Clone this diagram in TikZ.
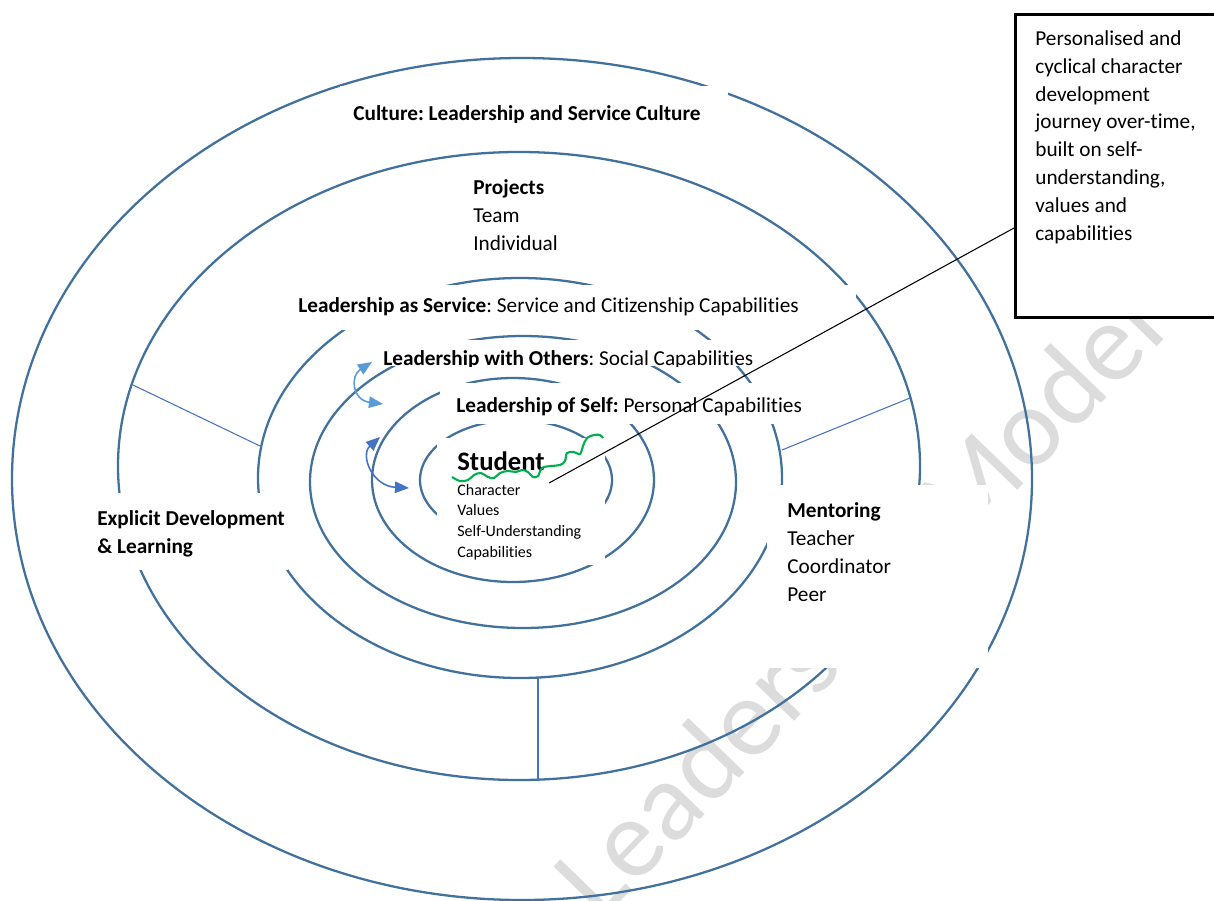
\documentclass[tikz,border=0pt]{standalone}
\usepackage{fontspec}
\setmainfont{Carlito}[Ligatures={NoCommon}]
\frenchspacing
\usetikzlibrary{arrows.meta}
\definecolor{ringblue}{HTML}{41719C}
\definecolor{spokeblue}{HTML}{4472C4}
\definecolor{lightblue}{HTML}{5B9BD5}
\definecolor{trailgreen}{HTML}{00B050}
\definecolor{markgray}{HTML}{DCDCDC}
\begin{document}
\begin{tikzpicture}[x=0.02cm, y=-0.02cm,
  ring/.style={draw=ringblue, line width=1.3pt},
  spoke/.style={draw=spokeblue, line width=0.6pt},
  mask/.style={fill=white},
  lbl/.style={anchor=base west, inner sep=0pt, align=left, font=\fontsize{12.1}{15.8}\selectfont},
  small/.style={anchor=base west, inner sep=0pt, align=left, font=\fontsize{9.1}{11.7}\selectfont},
  loop/.style={line width=0.9pt, {Triangle[length=8pt,width=6.5pt]}-{Triangle[length=8pt,width=6.5pt]}}]
  \useasboundingbox (0,0) rectangle (1214,900);

  % watermark
  \node[rotate=46, anchor=base, inner sep=0pt, text=markgray, font=\fontsize{64}{64}\selectfont] (mark) at (885,628) {Leadership Model};

  % rings, outside in
  \foreach \cx/\cy/\rx/\ry in {522/479/510/421, 519/466/401/314, 520/478/262/200,
                               523/482/213/146, 513/480/141/102, 516/480/96/60}
    \draw[ring] (\cx,\cy) ellipse [x radius=\rx, y radius=\ry];

  % spokes between rings
  \coordinate (leftouter) at (133,385);
  \coordinate (leftinner) at (260,446);
  \coordinate (rightouter) at (910,398);
  \coordinate (rightinner) at (782,450);
  \coordinate (bottominner) at (538,678);
  \coordinate (bottomouter) at (538,780);
  \draw[spoke] (leftouter) -- (leftinner);
  \draw[spoke] (rightouter) -- (rightinner);
  \draw[spoke] (bottominner) -- (bottomouter);

  % white text boxes over the rings
  \fill[mask] (340,86) rectangle (728,122);
  \fill[mask] (465,170) rectangle (600,262);
  \fill[mask] (290,285) rectangle (856,330);
  \fill[mask] (375,340) rectangle (762,366);
  \fill[mask] (440,383) rectangle (815,424);
  \fill[mask] (437,438) rectangle (605,565);
  \fill[mask] (95,493) rectangle (288,570);
  \fill[mask] (767,485) rectangle (988,668);

  % labels (multi-line nodes sit on their last baseline)
  \begin{scope}
    \clip (340,86) rectangle (728,122);
    \node[lbl] (culture) at (353,120) {\bfseries Culture: Leadership and Service Culture};
  \end{scope}
  \node[lbl] (projects) at (473,250) {\textbf{Projects}\\Team\\Individual};
  \node[lbl] (service) at (298,312) {\textbf{Leadership as Service}: Service and Citizenship Capabilities};
  \begin{scope}
    \clip (375,340) rectangle (762,366);
    \node[lbl] (others) at (383,365) {\textbf{Leadership with Others}: Social Capabilities};
  \end{scope}
  \node[lbl] (self) at (456,412) {\textbf{Leadership of Self:} Personal Capabilities};
  \node[anchor=base west, inner sep=0pt, font=\fontsize{15.2}{18}\selectfont\bfseries] (student) at (457,470) {Student};
  \node[small] (traits) at (457,557) {Character\\Values\\Self-Understanding\\Capabilities};
  \node[lbl, font=\fontsize{12.1}{15.8}\selectfont\bfseries] (explicit) at (97,553) {Explicit Development\\\& Learning};
  \node[lbl] (mentoring) at (787,601) {\textbf{Mentoring}\\Teacher\\Coordinator\\Peer};

  % callout
  \node[draw, fill=white, line width=1.5pt, anchor=north west, minimum width=4.4cm, minimum height=6.06cm] (note) at (1014,13) {};
  \node[lbl] (notetext) at (1035,240) {Personalised and\\cyclical character\\development\\journey over-time,\\built on self-\\understanding,\\values and\\capabilities};
  \coordinate (notefoot) at (1014,228);
  \coordinate (studentfoot) at (549,483);
  \draw[line width=0.6pt] (studentfoot) -- (notefoot);

  % curved arrows
  \coordinate (otherstip) at (372,362);
  \coordinate (selftip) at (383,404);
  \coordinate (selfup) at (380,437);
  \coordinate (studenttip) at (409,488);
  \draw[loop, lightblue] (otherstip) .. controls (350,376) and (352,400) .. (selftip);
  \draw[loop, spokeblue] (selfup) .. controls (360,455) and (372,486) .. (studenttip);

  % journey line
  \draw[trailgreen, line width=1.2pt] plot[smooth, tension=0.6] coordinates {
    (452,477) (460,481) (468,480) (474,475) (481,473) (488,477) (494,478) (500,473)
    (508,471) (516,472) (522,470) (528,472) (533,477) (538,476) (542,468) (551,466)
    (560,465) (565,461) (567,453) (574,452) (580,454) (583,446) (587,438) (594,435)
    (600,435) (603,438)};
\end{tikzpicture}
\end{document}
